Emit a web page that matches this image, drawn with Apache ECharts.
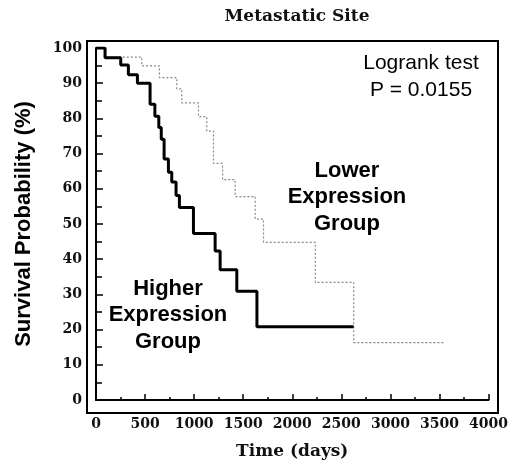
<!DOCTYPE html>
<html>
<head>
<meta charset="utf-8">
<script src="https://cdn.jsdelivr.net/npm/echarts@6/dist/echarts.min.js"></script>
<style>
html, body { margin: 0; padding: 0; background: #fff; }
#chart { width: 511px; height: 465px; }
</style>
</head>
<body>
<div id="chart"></div>
<script>
// Kaplan-Meier steps, [time (days), survival %]
var higherExpression = [
  [0, 100], [92, 97.2], [252, 95.2], [330, 92.4], [422, 90.0], [551, 84.0],
  [600, 80.6], [640, 77.4], [665, 74.1], [694, 68.5], [738, 64.7], [772, 61.9],
  [816, 58.1], [850, 54.7], [993, 47.3], [1214, 42.3], [1265, 37.0],
  [1435, 30.9], [1640, 20.8], [2626, 20.8]
];
var lowerExpression = [
  [0, 100], [100, 97.4], [466, 94.9], [646, 91.6], [823, 88.4], [874, 84.4],
  [1044, 80.5], [1129, 76.4], [1197, 67.2], [1290, 62.6], [1418, 57.8],
  [1622, 51.4], [1707, 44.8], [2235, 33.4], [2626, 16.3], [3544, 16.3]
];
var xTicks = [0, 500, 1000, 1500, 2000, 2500, 3000, 3500, 4000];
var yTicks = [0, 10, 20, 30, 40, 50, 60, 70, 80, 90, 100];

var serif = 'DejaVu Serif';
var sans = 'Liberation Sans';

var myChart = echarts.init(document.getElementById('chart'));
myChart.setOption({
  animation: false,
  title: {
    text: 'Metastatic Site',
    left: 292,
    top: 3,
    textAlign: 'center',
    textStyle: { fontFamily: serif, fontWeight: 'bold', fontSize: 17, color: '#111' }
  },
  grid: [
    { left: 96, right: 22, top: 48, bottom: 62 },
    // frame around the plot
    { left: 87, right: 13, top: 41, bottom: 52, show: true, borderColor: '#000', borderWidth: 2, backgroundColor: 'transparent' }
  ],
  xAxis: [{
    type: 'value',
    min: xTicks[0],
    max: xTicks[xTicks.length - 1],
    interval: 500,
    offset: 10,
    name: 'Time (days)',
    nameLocation: 'middle',
    nameGap: 33,
    nameTextStyle: { fontFamily: serif, fontWeight: 'bold', fontSize: 17, color: '#111' },
    axisLine: { lineStyle: { color: '#000', width: 2 } },
    axisTick: { inside: true, length: 6, lineStyle: { color: '#000', width: 1.5 } },
    minorTick: { show: true, splitNumber: 2, length: 3, lineStyle: { color: '#000', width: 1.5 } },
    axisLabel: {
      margin: 7, fontFamily: serif, fontWeight: 'bold', fontSize: 14, color: '#111',
      formatter: function (v) { return String(v); }
    },
    splitLine: { show: false }
  }, {
    gridIndex: 1, type: 'value', show: false
  }],
  yAxis: [{
    type: 'value',
    min: yTicks[0],
    max: yTicks[yTicks.length - 1],
    interval: 10,
    offset: 9,
    name: 'Survival Probability (%)',
    nameLocation: 'middle',
    nameGap: 52,
    nameTextStyle: { fontFamily: sans, fontWeight: 'bold', fontSize: 22, color: '#000' },
    axisLine: { show: true, lineStyle: { color: '#000', width: 2 } },
    axisTick: { show: true, inside: true, length: 7, lineStyle: { color: '#000', width: 1.5 } },
    minorTick: { show: true, splitNumber: 2, length: 6, lineStyle: { color: '#000', width: 1.5 } },
    axisLabel: { margin: 5, fontFamily: serif, fontWeight: 'bold', fontSize: 14, color: '#111' },
    splitLine: { show: false }
  }, {
    gridIndex: 1, type: 'value', show: false
  }],
  graphic: [
    {
      type: 'text', x: 421, y: 76.5,
      style: {
        text: 'Logrank test\nP = 0.0155', align: 'center', verticalAlign: 'middle',
        fontFamily: sans, fontSize: 21, lineHeight: 27, fill: '#000'
      }
    },
    {
      type: 'text', x: 347, y: 197,
      style: {
        text: 'Lower\nExpression\nGroup', align: 'center', verticalAlign: 'middle',
        fontFamily: sans, fontWeight: 'bold', fontSize: 22, lineHeight: 26.5, fill: '#000'
      }
    },
    {
      type: 'text', x: 168, y: 315,
      style: {
        text: 'Higher\nExpression\nGroup', align: 'center', verticalAlign: 'middle',
        fontFamily: sans, fontWeight: 'bold', fontSize: 22, lineHeight: 26.5, fill: '#000'
      }
    }
  ],
  series: [{
    name: 'Lower Expression Group',
    type: 'line',
    step: 'end',
    showSymbol: false,
    data: lowerExpression,
    lineStyle: { color: '#888', width: 1.2, type: [2, 2] },
    z: 2
  }, {
    name: 'Higher Expression Group',
    type: 'line',
    step: 'end',
    showSymbol: false,
    data: higherExpression,
    lineStyle: { color: '#000', width: 3 },
    z: 3
  }]
});
</script>
</body>
</html>
